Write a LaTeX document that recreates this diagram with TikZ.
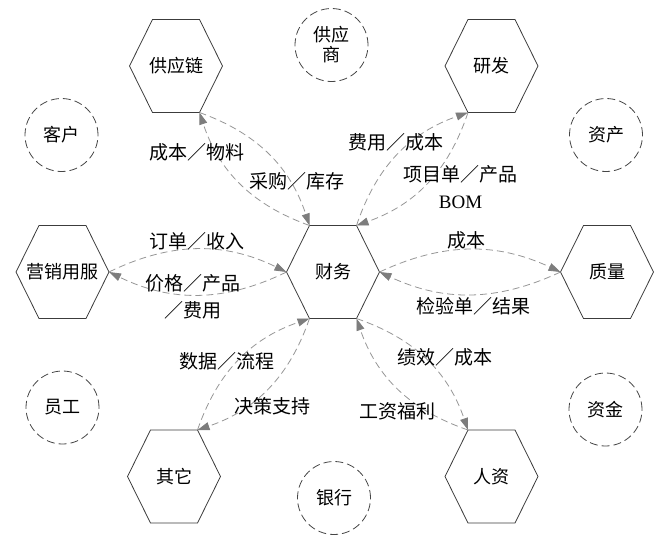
\documentclass[tikz,border=0pt]{standalone}
\usepackage{fontspec}
\setmainfont{Noto Sans CJK SC}
\newfontfamily\latinserif{Liberation Serif}
\usetikzlibrary{arrows.meta,calc}
\definecolor{hexc}{RGB}{60,60,60}
\definecolor{circc}{RGB}{70,70,70}
\definecolor{linec}{RGB}{150,150,150}
\definecolor{headc}{RGB}{125,125,125}
\tikzset{
  hextext/.style={inner sep=0pt, font=\fontsize{18}{22}\selectfont},
  hexline/.style={draw=hexc, line width=0.8pt},
  extnode/.style={circle, draw=circc, line width=0.8pt, dash pattern=on 8pt off 4pt,
    minimum size=73pt, inner sep=0pt, align=center, font=\fontsize{18}{22}\selectfont},
  conn/.style={draw=linec, line width=0.8pt, dash pattern=on 7pt off 4pt,
    -{Triangle[length=12pt,width=8pt,color=headc]}},
  lbl/.style={inner sep=0pt, align=center, font=\fontsize{19}{26.5}\selectfont}
}
\newcommand\hexnode[4]{%
  \node[hextext] (#1) at (#2,#3) {#4};
  \path (#2,#3) ++(-46.5,0) coordinate (#1-l)
        (#2,#3) ++(-23.5,-46.5) coordinate (#1-tl)
        (#2,#3) ++(23.5,-46.5) coordinate (#1-tr)
        (#2,#3) ++(46.5,0) coordinate (#1-r)
        (#2,#3) ++(23.5,46.5) coordinate (#1-br)
        (#2,#3) ++(-23.5,46.5) coordinate (#1-bl);
  \draw[hexline] (#1-l) -- (#1-tl) -- (#1-tr) -- (#1-r) -- (#1-br) -- (#1-bl) -- cycle;
}
\begin{document}
\begin{tikzpicture}[x=1pt,y=-1pt]
\useasboundingbox (0,0) rectangle (672,542);
% hexagons
\hexnode{gyl}{176}{66}{供应链}
\hexnode{yf}{491.5}{66}{研发}
\hexnode{yx}{62.5}{272}{营销用服}
\hexnode{cw}{333}{272}{财务}
\hexnode{zl}{607}{272}{质量}
\hexnode{qt}{174}{476.5}{其它}
\hexnode{rz}{491.5}{476.5}{人资}
% external circles
\node[extnode] (gys) at (331.5,45) {供应\\[-2pt]商};
\node[extnode] (kh) at (61.5,135) {客户};
\node[extnode] (zc) at (606,135) {资产};
\node[extnode] (yg) at (62.5,407.5) {员工};
\node[extnode] (zj) at (605.5,409.5) {资金};
\node[extnode] (yh) at (334,498) {银行};
% connectors
\draw[conn] (gyl-br) to[bend left=26] (cw-tl);
\draw[conn] (cw-tl) to[bend left=26] (gyl-br);
\draw[conn] (cw-tr) to[bend left=26] (yf-bl);
\draw[conn] (yf-bl) to[bend left=26] (cw-tr);
\draw[conn] (yx-r) to[bend left=26] (cw-l);
\draw[conn] (cw-l) to[bend left=26] (yx-r);
\draw[conn] (cw-r) to[bend left=25] (zl-l);
\draw[conn] (zl-l) to[bend left=25] (cw-r);
\draw[conn] (qt-tr) to[bend left=26] (cw-bl);
\draw[conn] (cw-bl) to[bend left=26] (qt-tr);
\draw[conn] (cw-br) to[bend left=26] (rz-tl);
\draw[conn] (rz-tl) to[bend left=26] (cw-br);
% labels
\node[lbl] (l1) at (197,152) {成本／物料};
\node[lbl] (l2) at (297,181) {采购／库存};
\node[lbl] (l3) at (395.5,142) {费用／成本};
\node[lbl] (l4) at (460.5,187) {项目单／产品\\{\latinserif BOM}};
\node[lbl] (l5) at (197,241.5) {订单／收入};
\node[lbl] (l6) at (193,297) {价格／产品\\／费用};
\node[lbl] (l7) at (466.5,240.5) {成本};
\node[lbl] (l8) at (473,306) {检验单／结果};
\node[lbl] (l9) at (227,361) {数据／流程};
\node[lbl] (l10) at (272,406.5) {决策支持};
\node[lbl] (l11) at (445,357.5) {绩效／成本};
\node[lbl] (l12) at (397.5,411.5) {工资福利};
\end{tikzpicture}
\end{document}
